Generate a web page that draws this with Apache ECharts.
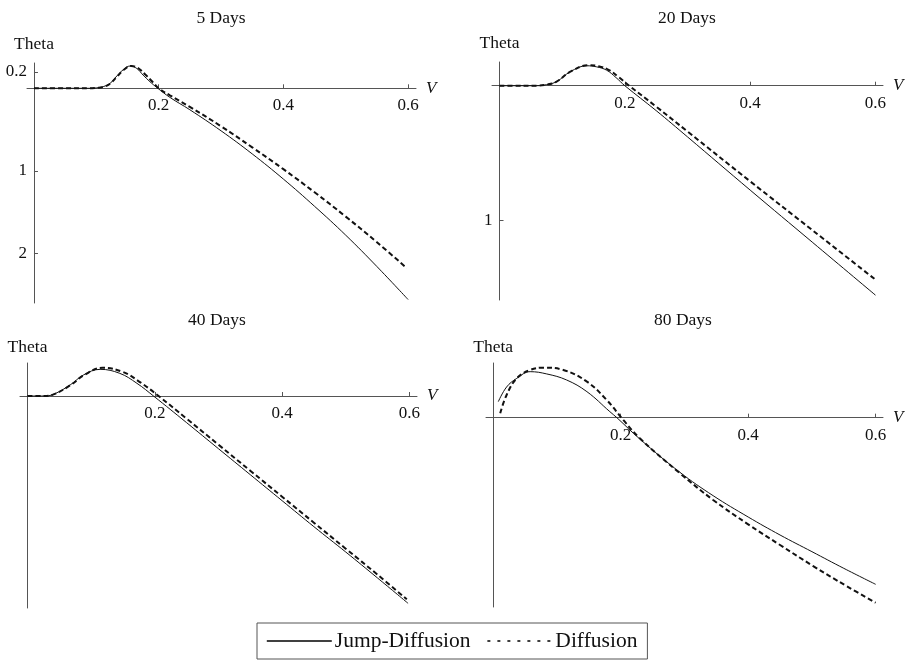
<!DOCTYPE html>
<html>
<head>
<meta charset="utf-8">
<script src="https://cdn.jsdelivr.net/npm/echarts@6/dist/echarts.min.js"></script>
<style>
  html, body { margin: 0; padding: 0; background: #fff; }
  #chart { width: 907px; height: 662px; }
</style>
</head>
<body>
<div id="chart"></div>
<script>
// 面板标题
const panelTitles = ['5 Days', '20 Days', '40 Days', '80 Days'];
const seriesNames = ['Jump-Diffusion', 'Diffusion'];
const xTickValues = [0.2, 0.4, 0.6];
// 每个面板 y 轴刻度 (负值显示为绝对值)
const yTicks5 = [0.2, -1, -2];
const yTicks20 = [-1];
const yTicks40 = [];
const yTicks80 = [];

// 5 Days
const v5Jump = [0, 0.05, 0.09, 0.1, 0.111, 0.122, 0.133, 0.144, 0.154, 0.165, 0.175, 0.186, 0.197, 0.218, 0.25, 0.3, 0.35, 0.4, 0.45, 0.5, 0.55, 0.6];
const t5Jump = [0, 0, 0, 0.005, 0.02, 0.06, 0.15, 0.23, 0.27, 0.24, 0.16, 0.08, 0.01, -0.11, -0.26, -0.515, -0.795, -1.10, -1.43, -1.78, -2.16, -2.56];
const v5Diff = [0, 0.05, 0.09, 0.1, 0.111, 0.122, 0.133, 0.144, 0.156, 0.167, 0.178, 0.19, 0.2, 0.218, 0.25, 0.3, 0.35, 0.4, 0.45, 0.5, 0.55, 0.598];
const t5Diff = [0, 0, 0, 0.005, 0.015, 0.055, 0.14, 0.225, 0.27, 0.245, 0.17, 0.08, 0, -0.085, -0.225, -0.46, -0.715, -0.98, -1.26, -1.555, -1.865, -2.18];

// 20 Days
const v20Jump = [0, 0.03, 0.059, 0.075, 0.091, 0.113, 0.139, 0.155, 0.171, 0.186, 0.2, 0.25, 0.3, 0.4, 0.5, 0.6];
const t20Jump = [0, 0, 0, 0.008, 0.03, 0.104, 0.148, 0.14, 0.115, 0.06, 0, -0.185, -0.38, -0.775, -1.165, -1.555];
const v20Diff = [0, 0.03, 0.059, 0.075, 0.091, 0.113, 0.142, 0.158, 0.174, 0.19, 0.207, 0.25, 0.3, 0.4, 0.5, 0.6];
const t20Diff = [0, 0, 0, 0.008, 0.03, 0.104, 0.152, 0.145, 0.118, 0.065, 0, -0.155, -0.34, -0.71, -1.075, -1.44];

// 40 Days
const v40Jump = [0, 0.026, 0.041, 0.067, 0.088, 0.114, 0.145, 0.172, 0.198, 0.25, 0.3, 0.35, 0.4, 0.45, 0.5, 0.55, 0.598];
const t40Jump = [0, 0, 0.013, 0.083, 0.158, 0.2, 0.17, 0.095, 0, -0.2, -0.395, -0.59, -0.785, -0.98, -1.17, -1.365, -1.555];
const v40Diff = [0, 0.026, 0.041, 0.067, 0.09, 0.118, 0.15, 0.178, 0.206, 0.25, 0.3, 0.35, 0.4, 0.45, 0.5, 0.55, 0.596];
const t40Diff = [0, 0, 0.012, 0.08, 0.16, 0.212, 0.18, 0.1, 0, -0.17, -0.365, -0.56, -0.755, -0.95, -1.145, -1.34, -1.525];

// 80 Days
const v80Jump = [0.008, 0.021, 0.037, 0.058, 0.084, 0.115, 0.147, 0.183, 0.194, 0.23, 0.293, 0.345, 0.4, 0.45, 0.5, 0.55, 0.6];
const t80Jump = [0.12, 0.23, 0.295, 0.345, 0.328, 0.283, 0.195, 0.045, 0, -0.16, -0.41, -0.585, -0.745, -0.88, -1.005, -1.13, -1.25];
const v80Diff = [0.011, 0.021, 0.037, 0.058, 0.079, 0.11, 0.147, 0.178, 0.204, 0.23, 0.293, 0.345, 0.4, 0.45, 0.502, 0.555, 0.6];
const t80Diff = [0.033, 0.17, 0.295, 0.358, 0.375, 0.358, 0.27, 0.133, -0.017, -0.155, -0.417, -0.617, -0.80, -0.955, -1.113, -1.265, -1.388];

const font = 'Liberation Serif';
const ink = '#111';
const axisColor = '#555';

// 面板布局: 网格位置与坐标范围
const panels = [
    { title: panelTitles[0], cx: 221, ty: 9, nameGap: 10, grid: { left: 27, top: 63, width: 389, height: 240 }, x: [-0.0112, 0.6127], y: [-2.602, 0.3067], yTicks: yTicks5,
      jump: [v5Jump, t5Jump], diff: [v5Diff, t5Diff] },
    { title: panelTitles[1], cx: 687, ty: 9, nameGap: 10, grid: { left: 492, top: 62, width: 391, height: 238 }, x: [-0.012, 0.612], y: [-1.591, 0.176], yTicks: yTicks20,
      jump: [v20Jump, t20Jump], diff: [v20Diff, t20Diff] },
    { title: panelTitles[2], cx: 217, ty: 311, nameGap: 7, grid: { left: 20, top: 363, width: 397, height: 245 }, x: [-0.0118, 0.612], y: [-1.59, 0.2476], yTicks: yTicks40,
      jump: [v40Jump, t40Jump], diff: [v40Diff, t40Diff] },
    { title: panelTitles[3], cx: 683, ty: 311, nameGap: 7, grid: { left: 486, top: 363, width: 397, height: 244 }, x: [-0.0113, 0.6115], y: [-1.42, 0.41], yTicks: yTicks80,
      jump: [v80Jump, t80Jump], diff: [v80Diff, t80Diff] }
];

function zip(xs, ys) {
    return xs.map((x, i) => [x, ys[i]]);
}

// 把 x 轴移到 y=0 处 (相对网格底边的偏移)
function xZeroOffset(p) {
    return -(p.grid.height * (-p.y[0]) / (p.y[1] - p.y[0]));
}

// 把 y 轴移到 x=0 处 (相对网格左边的偏移)
function yZeroOffset(p) {
    return -(p.grid.width * (-p.x[0]) / (p.x[1] - p.x[0]));
}

const chart = echarts.init(document.getElementById('chart'));

const option = {
    animation: false,
    backgroundColor: '#fff',
    textStyle: { fontFamily: font },
    title: panels.map(p => ({
        text: p.title,
        left: p.cx,
        top: p.ty,
        padding: 0,
        textAlign: 'center',
        textStyle: { fontFamily: font, fontSize: 17.5, fontWeight: 'normal', color: ink }
    })),
    legend: {
        left: 257,
        top: 623,
        padding: [7, 10, 7, 9],
        itemGap: 16,
        itemWidth: 65,
        itemHeight: 14,
        borderColor: '#555',
        borderWidth: 1,
        itemStyle: { opacity: 0 },
        textStyle: { fontFamily: font, fontSize: 21.5, color: ink, padding: [0, 0, 0, -2] },
        data: [
            { name: seriesNames[0], itemStyle: { opacity: 0 }, lineStyle: { type: 'solid', width: 1.6, color: '#000' } },
            { name: seriesNames[1], itemStyle: { opacity: 0 }, lineStyle: { type: [3, 7], width: 1.6, color: '#000' } }
        ]
    },
    grid: panels.map(p => Object.assign({ containLabel: false }, p.grid)),
    xAxis: panels.map((p, i) => ({
        type: 'value',
        gridIndex: i,
        position: 'bottom',
        offset: xZeroOffset(p),
        min: p.x[0],
        max: p.x[1],
        name: 'V',
        nameLocation: 'end',
        nameGap: 10,
        nameTextStyle: { fontFamily: font, fontSize: 17, fontStyle: 'italic', color: ink },
        axisLine: { onZero: false, lineStyle: { color: axisColor, width: 1 } },
        axisTick: { show: true, inside: true, length: 4, customValues: xTickValues, lineStyle: { color: axisColor } },
        axisLabel: { customValues: xTickValues, margin: 9, fontFamily: font, fontSize: 17, color: ink },
        splitLine: { show: false }
    })),
    yAxis: panels.map((p, i) => ({
        type: 'value',
        gridIndex: i,
        position: 'left',
        offset: yZeroOffset(p),
        min: p.y[0],
        max: p.y[1],
        name: 'Theta',
        nameLocation: 'end',
        nameGap: p.nameGap,
        nameTextStyle: { fontFamily: font, fontSize: 17.5, color: ink },
        axisLine: { onZero: false, lineStyle: { color: axisColor, width: 1 } },
        axisTick: { show: p.yTicks.length > 0, inside: true, length: 4, customValues: p.yTicks, lineStyle: { color: axisColor } },
        axisLabel: {
            show: p.yTicks.length > 0,
            customValues: p.yTicks,
            margin: 7,
            fontFamily: font,
            fontSize: 17,
            color: ink,
            formatter: v => String(Math.abs(v))
        },
        splitLine: { show: false }
    })),
    series: []
};

panels.forEach((p, i) => {
    option.series.push({
        name: seriesNames[0],
        type: 'line',
        xAxisIndex: i,
        yAxisIndex: i,
        data: zip(p.jump[0], p.jump[1]),
        smooth: 0.4,
        symbol: 'none',
        lineStyle: { color: ink, width: 1 },
        itemStyle: { color: ink }
    });
    option.series.push({
        name: seriesNames[1],
        type: 'line',
        xAxisIndex: i,
        yAxisIndex: i,
        data: zip(p.diff[0], p.diff[1]),
        smooth: 0.4,
        symbol: 'none',
        lineStyle: { color: ink, width: 2, type: [5, 3] },
        itemStyle: { color: ink }
    });
});

chart.setOption(option);

window.addEventListener('resize', () => {
    chart.resize();
});
</script>
</body>
</html>
